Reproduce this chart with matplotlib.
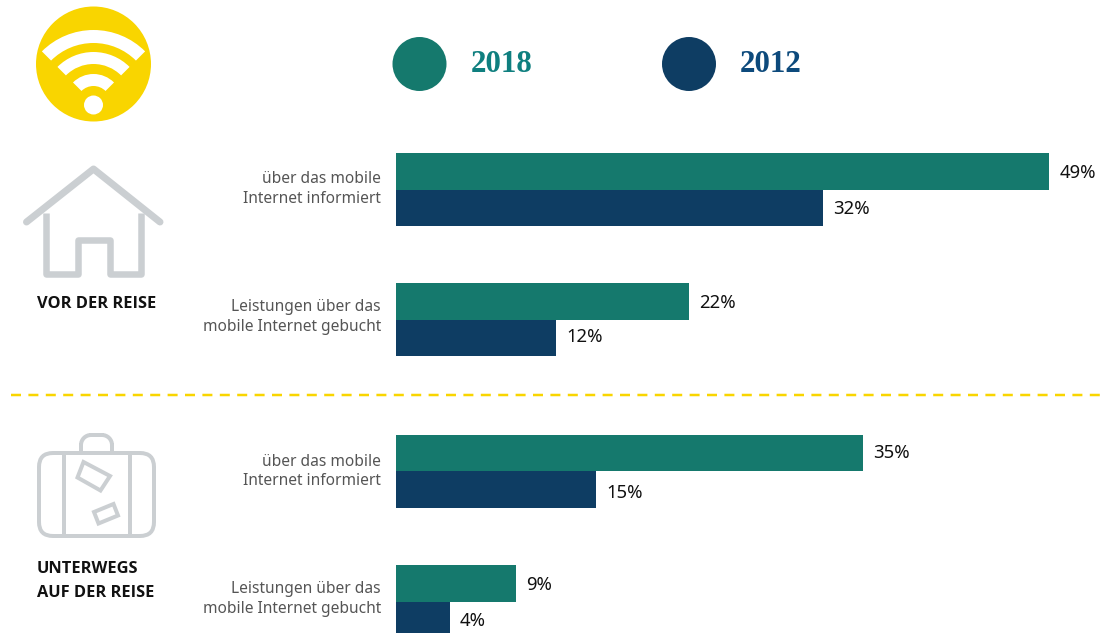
import matplotlib
matplotlib.use("Agg")
import matplotlib.pyplot as plt
from matplotlib.patches import Circle, Wedge, Polygon, FancyBboxPatch, Arc

labels = ["über das mobile\nInternet informiert", "Leistungen über das\nmobile Internet gebucht",
          "über das mobile\nInternet informiert", "Leistungen über das\nmobile Internet gebucht"]
values_2018 = [49, 22, 35, 9]
values_2012 = [32, 12, 15, 4]
years = ["2018", "2012"]
sections = ["VOR DER REISE", "UNTERWEGS\nAUF DER REISE"]

GREEN = "#15796d"
BLUE = "#0e3d63"
YELLOW = "#f9d500"
GREY = "#cbcfd2"
PX = 0.72  # points per pixel at dpi 100

plt.rcParams["font.family"] = ["Noto Sans", "DejaVu Sans"]

fig = plt.figure(figsize=(11.05, 6.33), dpi=100)

# background layer in pixel coordinates, for icons and text
ax = fig.add_axes([0, 0, 1, 1])
ax.set_xlim(0, 1105)
ax.set_ylim(633, 0)
ax.axis("off")

# bar layer, x in percent, y in pixels
px_per_pct = 653 / 49
bx = fig.add_axes([396.3 / 1105, 0, 708.7 / 1105, 1])
bx.set_xlim(0, 708.7 / px_per_pct)
bx.set_ylim(633, 0)
bx.axis("off")
bx.patch.set_alpha(0)

tops = [153, 283, 434.5, 565]
label_y = [189, 317, 471.5, 599]
text_y_2018 = [172.5, 302.5, 453.5, 584.5]
text_y_2012 = [208.5, 336.5, 492.5, 620.5]
bar_h = 36.7
for i, top in enumerate(tops):
    bx.barh(top + bar_h / 2, values_2018[i], height=bar_h, color=GREEN)
    bx.barh(top + bar_h * 1.5, values_2012[i], height=bar_h, color=BLUE)
    bx.annotate(f"{values_2018[i]}%", (values_2018[i], text_y_2018[i]), xytext=(10 * PX, 0),
                textcoords="offset points", va="center", ha="left", fontsize=18.5 * PX, color="#111111")
    bx.annotate(f"{values_2012[i]}%", (values_2012[i], text_y_2012[i]), xytext=(10 * PX, 0),
                textcoords="offset points", va="center", ha="left", fontsize=18.5 * PX, color="#111111")
    ax.text(381, label_y[i], labels[i], ha="right", va="center", fontsize=15.5 * PX,
            color="#555555", linespacing=1.3)

# legend
for cx, tx, year, c, tc in [(419.5, 471, years[0], GREEN, "#0f7f7f"), (689, 740, years[1], BLUE, "#0d4a7c")]:
    ax.add_patch(Circle((cx, 64), 27, color=c, lw=0))
    ax.text(tx, 64, year, fontsize=31 * PX, color=tc, family="Liberation Serif",
            weight="bold", va="center", ha="left")

# divider
ax.plot([11, 1100], [395, 395], color=YELLOW, lw=2.5 * PX, dashes=(10 / 2.5, 7.4 / 2.5))

# wifi icon
ax.add_patch(Circle((93.5, 64), 57.5, color=YELLOW, lw=0))
ax.add_patch(Circle((93.5, 105), 9.5, color="white", lw=0))
for r, w in [(73, 13), (51, 12), (29, 12)]:
    ax.add_patch(Wedge((93.5, 103), r, 225, 315, width=w, color="white", lw=0))

# house icon
house = dict(color=GREY, lw=7 * PX, solid_capstyle="round", solid_joinstyle="round")
ax.plot([26.5, 93.5, 160], [222, 169, 222], **house)
walls = dict(color=GREY, lw=6.5 * PX, solid_capstyle="butt", solid_joinstyle="round")
ax.plot([46, 46, 77.5, 77.5, 109.5, 109.5, 141, 141], [213, 274, 274, 239.5, 239.5, 274, 274, 213], **walls)

# suitcase icon
lw_case = 4 * PX
ax.add_patch(FancyBboxPatch((39, 453), 115, 83, boxstyle="round,pad=0,rounding_size=14",
                            fc="none", ec=GREY, lw=lw_case))
ax.plot([64, 64], [453, 536], color=GREY, lw=lw_case)
ax.plot([130, 130], [453, 536], color=GREY, lw=lw_case)
ax.plot([81, 81], [453, 445], color=GREY, lw=lw_case)
ax.plot([112, 112], [453, 445], color=GREY, lw=lw_case)
ax.plot([91, 102], [435, 435], color=GREY, lw=lw_case)
ax.add_patch(Arc((91, 445), 20, 20, theta1=180, theta2=270, color=GREY, lw=lw_case))
ax.add_patch(Arc((102, 445), 20, 20, theta1=270, theta2=360, color=GREY, lw=lw_case))
ax.add_patch(Polygon([(83.5, 462), (110, 476), (100.5, 490.5), (77.5, 477.5)], closed=True,
                     fc="none", ec=GREY, lw=lw_case))
ax.add_patch(Polygon([(113.5, 504), (118, 515.5), (98.5, 523.5), (94, 512)], closed=True,
                     fc="none", ec=GREY, lw=lw_case))

# section titles
ax.text(37, 304, sections[0], fontsize=16.4 * PX, family="Open Sans", weight="bold", color="#111111",
        va="center", ha="left")
ax.text(37, 581, sections[1], fontsize=16.4 * PX, family="Open Sans", weight="bold", color="#111111",
        va="center", ha="left", linespacing=1.7)

fig.savefig("out.png", dpi=100)
